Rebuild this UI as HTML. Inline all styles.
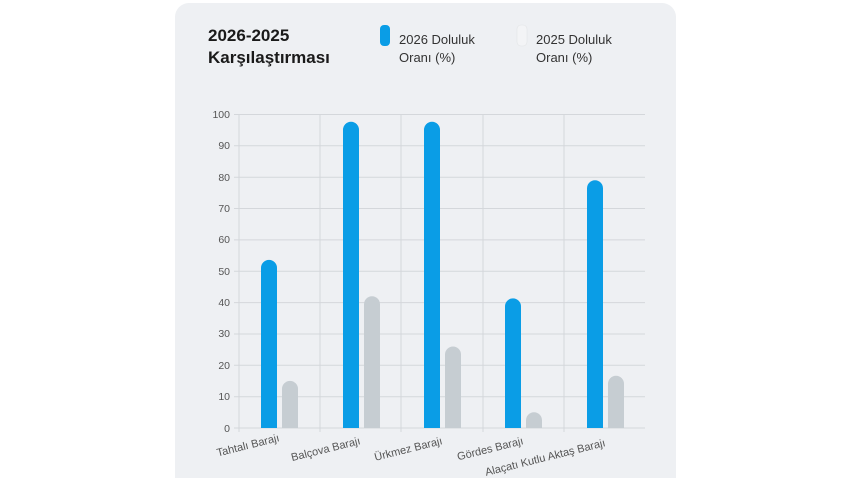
<!DOCTYPE html>
<html><head><meta charset="utf-8"><style>
html,body{margin:0;padding:0;background:#fff;width:850px;height:478px;overflow:hidden;}
body{position:relative;font-family:"Liberation Sans",sans-serif;}
.card{position:absolute;left:175px;top:3px;width:501px;height:475px;background:#eef0f3;border-radius:14px 14px 0 0;}
</style></head><body>
<div class="card"></div>
<svg width="850" height="478" style="position:absolute;left:0;top:0" font-family="Liberation Sans, DejaVu Sans, sans-serif">
<text x="208" y="41" font-size="17" font-weight="bold" fill="#1a1a1a">2026-2025</text>
<text x="208" y="63" font-size="17" font-weight="bold" fill="#1a1a1a">Karşılaştırması</text>
<rect x="380" y="25" width="10" height="21" rx="4" fill="#0a9de6"/>
<text x="399" y="44" font-size="13" fill="#333">2026 Doluluk</text>
<text x="399" y="62" font-size="13" fill="#333">Oranı (%)</text>
<rect x="517" y="25" width="10" height="21" rx="4" fill="#f3f4f6" stroke="#e2e4e6" stroke-width="0.6"/>
<text x="536" y="44" font-size="13" fill="#333">2025 Doluluk</text>
<text x="536" y="62" font-size="13" fill="#333">Oranı (%)</text>
<g stroke="#d4d7db" stroke-width="1">
<line x1="234" y1="114.5" x2="645" y2="114.5"/><line x1="234" y1="145.8" x2="645" y2="145.8"/>
<line x1="234" y1="177.2" x2="645" y2="177.2"/><line x1="234" y1="208.5" x2="645" y2="208.5"/>
<line x1="234" y1="239.9" x2="645" y2="239.9"/><line x1="234" y1="271.2" x2="645" y2="271.2"/>
<line x1="234" y1="302.6" x2="645" y2="302.6"/><line x1="234" y1="334" x2="645" y2="334"/>
<line x1="234" y1="365.3" x2="645" y2="365.3"/><line x1="234" y1="396.7" x2="645" y2="396.7"/>
<line x1="234" y1="428" x2="645" y2="428"/>
<line x1="239" y1="114" x2="239" y2="432"/><line x1="320" y1="114" x2="320" y2="432"/>
<line x1="401" y1="114" x2="401" y2="432"/><line x1="483" y1="114" x2="483" y2="432"/>
<line x1="564" y1="114" x2="564" y2="432"/>
</g>
<g font-size="10.5" fill="#555" text-anchor="end">
<text x="230" y="118">100</text><text x="230" y="149">90</text><text x="230" y="181">80</text>
<text x="230" y="212">70</text><text x="230" y="243">60</text><text x="230" y="275">50</text>
<text x="230" y="306">40</text><text x="230" y="337">30</text><text x="230" y="369">20</text>
<text x="230" y="400">10</text><text x="230" y="432">0</text>
</g>
<g fill="#0a9de6">
<path d="M261,428V267.9a8,8 0 0 1 16,0V428Z"/>
<path d="M343,428V129.8a8,8 0 0 1 16,0V428Z"/>
<path d="M424,428V129.8a8,8 0 0 1 16,0V428Z"/>
<path d="M505,428V306.4a8,8 0 0 1 16,0V428Z"/>
<path d="M587,428V188.3a8,8 0 0 1 16,0V428Z"/>
</g>
<g fill="#c6cdd2">
<path d="M282,428V388.9a8,8 0 0 1 16,0V428Z"/>
<path d="M364,428V304.3a8,8 0 0 1 16,0V428Z"/>
<path d="M445,428V354.5a8,8 0 0 1 16,0V428Z"/>
<path d="M526,428V420.3a8,8 0 0 1 16,0V428Z"/>
<path d="M608,428V383.8a8,8 0 0 1 16,0V428Z"/>
</g>
<g font-size="11" fill="#555" text-anchor="end">
<text transform="translate(280,441) rotate(-14)">Tahtalı Barajı</text>
<text transform="translate(361,444) rotate(-14)">Balçova Barajı</text>
<text transform="translate(443,444) rotate(-14)">Ürkmez Barajı</text>
<text transform="translate(524,444) rotate(-14)">Gördes Barajı</text>
<text transform="translate(606,446) rotate(-14)">Alaçatı Kutlu Aktaş Barajı</text>
</g>
</svg>
</body></html>
